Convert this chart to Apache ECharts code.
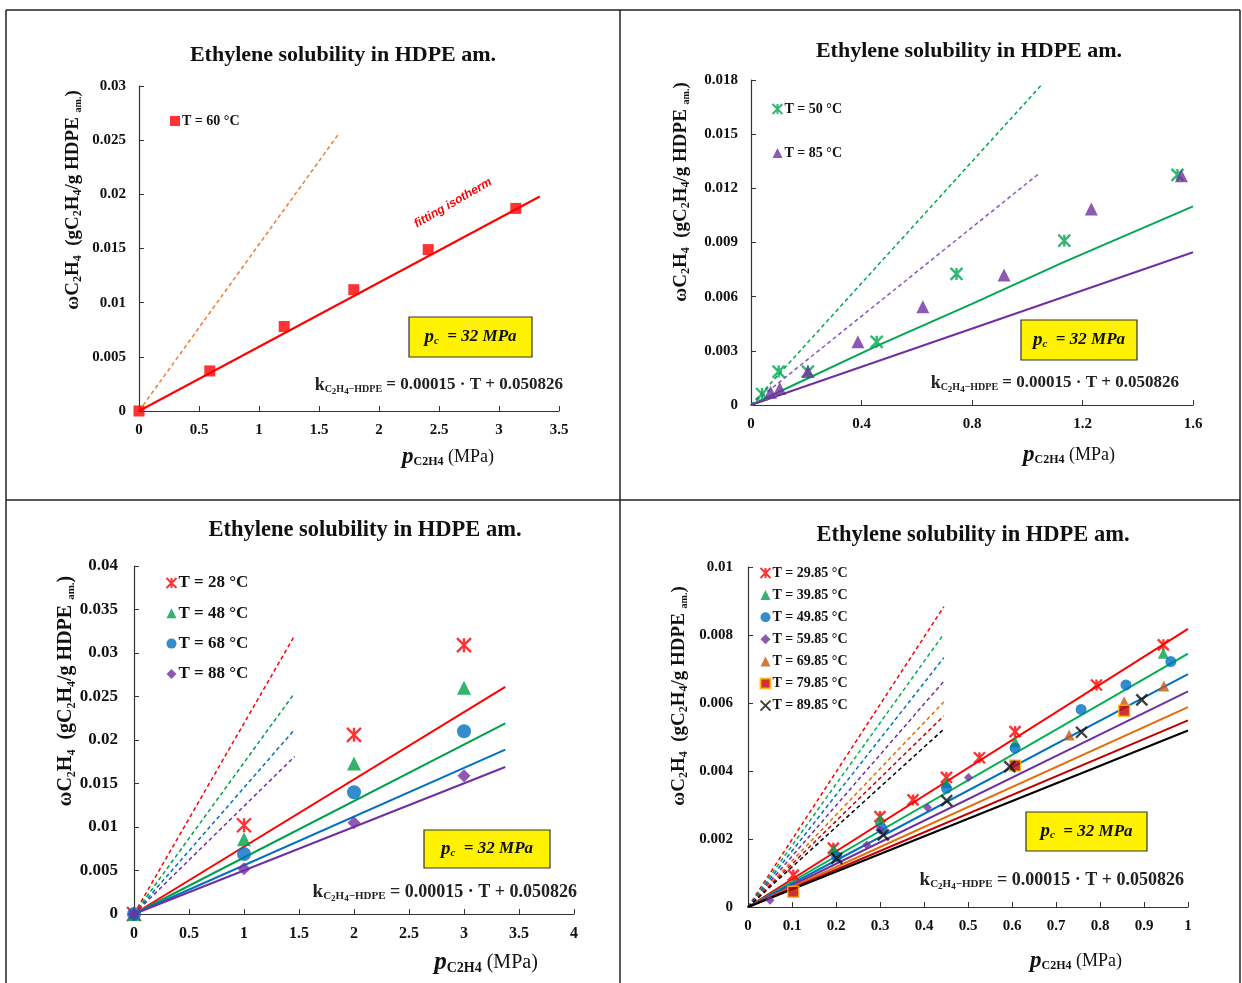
<!DOCTYPE html>
<html>
<head>
<meta charset="utf-8">
<script src="https://cdn.jsdelivr.net/npm/echarts@6/dist/echarts.min.js"></script>
<style>
html, body { margin: 0; padding: 0; background: #fff; }
#chart { width: 1242px; height: 983px; }
</style>
</head>
<body>
<div id="chart"></div>
<script>
// ---- panel A : T = 60 °C
const a60X = [0, 0.59, 1.21, 1.79, 2.41, 3.14];
const a60Y = [0, 0.0037, 0.0078, 0.0112, 0.0149, 0.0187];
const aFitX = [0, 3.34];
const aFitY = [0, 0.0198];
const aHenryX = [0, 1.665];
const aHenryY = [0, 0.0256];

// ---- panel B : T = 50 / 85 °C
const b50X = [0.04, 0.100, 0.206, 0.455, 0.744, 1.134, 1.544];
const b50Y = [0.00061, 0.00185, 0.00185, 0.0035, 0.00726, 0.0091, 0.01274];
const b85X = [0.071, 0.104, 0.206, 0.387, 0.622, 0.916, 1.232, 1.558];
const b85Y = [0.0007, 0.00092, 0.00185, 0.0035, 0.00544, 0.0072, 0.01086, 0.0127];
const bFit50X = [0, 0.46, 0.8, 1.13, 1.6];
const bFit50Y = [0, 0.0033, 0.0056, 0.0079, 0.011];
const bFit85X = [0, 1.6];
const bFit85Y = [0, 0.00846];
const bHenry50X = [0, 1.056];
const bHenry50Y = [0, 0.0178];
const bHenry85X = [0, 1.041];
const bHenry85Y = [0, 0.0128];

// ---- panel C : T = 28 / 48 / 68 / 88 °C
const cP = [0, 1, 2, 3];
const c28 = [0, 0.0102, 0.0206, 0.0309];
const c48 = [0, 0.0086, 0.0173, 0.026];
const c68 = [0, 0.0069, 0.014, 0.021];
const c88 = [0, 0.0052, 0.0105, 0.0159];
const cFitEnd = 3.375;
const cFit = [0.0261, 0.0219, 0.0189, 0.0169];
const cHenryEnd = 1.46;
const cHenry = [0.032, 0.0254, 0.0212, 0.0181];

// ---- panel D : T = 29.85 ... 89.85 °C
const d30X = [0.103, 0.194, 0.30, 0.375, 0.451, 0.526, 0.607, 0.792, 0.944];
const d30Y = [0.00094, 0.00173, 0.00266, 0.00315, 0.00381, 0.00439, 0.00516, 0.00653, 0.00771];
const d40X = [0.195, 0.30, 0.451, 0.607, 0.944];
const d40Y = [0.0017, 0.00258, 0.00366, 0.00486, 0.00746];
const d50X = [0.2016, 0.304, 0.451, 0.607, 0.757, 0.859, 0.961];
const d50Y = [0.00148, 0.00231, 0.00349, 0.00467, 0.00581, 0.00653, 0.00722];
const d60X = [0.05, 0.27, 0.30, 0.408, 0.501];
const d60Y = [0.0002, 0.00182, 0.00226, 0.00293, 0.00381];
const d70X = [0.730, 0.855, 0.945];
const d70Y = [0.00506, 0.00604, 0.0065];
const d80X = [0.103, 0.607, 0.855];
const d80Y = [0.00045, 0.00416, 0.00577];
const d90X = [0.2016, 0.3075, 0.4515, 0.595, 0.758, 0.895];
const d90Y = [0.00143, 0.00212, 0.00313, 0.00413, 0.00514, 0.00609];
const dFitEnd = 1;
const dFit = [0.00818, 0.00745, 0.00685, 0.00634, 0.00588, 0.00549, 0.00519];
const dHenryEnd = 0.445;
const dHenry = [0.00883, 0.00803, 0.00733, 0.00664, 0.00603, 0.00562, 0.00523];

const SERIF = '"Liberation Serif", "Times New Roman", serif';
const STAR = 'path://M0,0L10,10M10,0L0,10M5,0L5,10';
const CROSS = 'path://M0,0L10,10M10,0L0,10';

function pts(xs, ys) { return xs.map((x, i) => [x, ys[i]]); }

function lineS(gi, xs, ys, color, dashed, width) {
    return {
        type: 'line', xAxisIndex: gi, yAxisIndex: gi, data: pts(xs, ys),
        showSymbol: false, silent: true, z: 2,
        lineStyle: { color: color, width: width || 2, type: dashed ? [4, 3] : 'solid' }
    };
}

function dots(gi, name, xs, ys, symbol, size, color, border) {
    const stroke = symbol === STAR || symbol === CROSS;
    return {
        type: 'scatter', name: name, xAxisIndex: gi, yAxisIndex: gi, data: pts(xs, ys),
        symbol: symbol, symbolSize: size, z: 5,
        itemStyle: stroke
            ? { color: 'none', borderColor: color, borderWidth: 2.4 }
            : { color: color, borderColor: border || color, borderWidth: border ? 1.5 : 0 }
    };
}

function xAx(gi, max, interval, fs) {
    return {
        gridIndex: gi, type: 'value', min: 0, max: max, interval: interval,
        axisLine: { lineStyle: { color: '#333', width: 1.2 } },
        axisTick: { inside: true, length: 5, lineStyle: { color: '#333' } },
        axisLabel: { margin: 12, fontFamily: SERIF, fontWeight: 'bold', fontSize: fs, color: '#111' },
        splitLine: { show: false }
    };
}

function yAx(gi, max, interval, fs, margin) {
    return {
        gridIndex: gi, type: 'value', min: 0, max: max, interval: interval,
        axisLine: { show: true, lineStyle: { color: '#333', width: 1.2 } },
        axisTick: { show: true, inside: true, length: 5, lineStyle: { color: '#333' } },
        axisLabel: { margin: margin, fontFamily: SERIF, fontWeight: 'bold', fontSize: fs, color: '#111' },
        splitLine: { show: false }
    };
}

function legendAt(names, left, top, fs, lh, gap) {
    return {
        data: names, left: left, top: top, orient: 'vertical', padding: 0,
        itemGap: gap, itemWidth: 10, itemHeight: 10, selectedMode: false,
        textStyle: { fontFamily: SERIF, fontWeight: 'bold', fontSize: fs, color: '#111', lineHeight: lh, padding: [0, 0, 0, -3] }
    };
}

// text helpers (graphic)
function title(cx, cy, fs) {
    return { type: 'text', x: cx, y: cy, z: 50, style: { text: 'Ethylene solubility in HDPE am.', align: 'center', verticalAlign: 'middle', fontFamily: SERIF, fontWeight: 'bold', fontSize: fs, fill: '#111' } };
}
function yName(cx, cy, fs) {
    return {
        type: 'text', x: cx, y: cy, rotation: Math.PI / 2, z: 50,
        style: {
            text: '{b|ωC}{s|2}{b|H}{s|4}{b|  (gC}{s|2}{b|H}{s|4}{b|/g HDPE }{t|am.}{b|)}',
            align: 'center', verticalAlign: 'middle',
            rich: {
                b: { fontFamily: SERIF, fontWeight: 'bold', fontSize: fs, fill: '#111' },
                s: { fontFamily: SERIF, fontWeight: 'bold', fontSize: Math.round(fs * 0.62), fill: '#111', padding: [Math.round(fs * 0.55), 0, 0, 0] },
                t: { fontFamily: SERIF, fontWeight: 'bold', fontSize: Math.round(fs * 0.55), fill: '#111', padding: [Math.round(fs * 0.55), 0, 0, 0] }
            }
        }
    };
}
function xName(cx, cy, fs) {
    return {
        type: 'text', x: cx, y: cy, z: 50,
        style: {
            text: '{p|p}{s|C2H4}{n| (MPa)}', align: 'center', verticalAlign: 'middle',
            rich: {
                p: { fontFamily: SERIF, fontWeight: 'bold', fontStyle: 'italic', fontSize: fs + 5, fill: '#111' },
                s: { fontFamily: SERIF, fontWeight: 'bold', fontSize: Math.round(fs * 0.68), fill: '#111', padding: [Math.round(fs * 0.5), 0, 0, 0] },
                n: { fontFamily: SERIF, fontSize: fs, fill: '#111' }
            }
        }
    };
}
function pcBox(x, y, w, h, fs) {
    return [
        { type: 'rect', z: 40, shape: { x: x, y: y, width: w, height: h }, style: { fill: '#FFF200', stroke: '#333', lineWidth: 1.2 } },
        {
            type: 'text', x: x + w / 2, y: y + h / 2, z: 41,
            style: {
                text: '{p|p}{s|c}{n|  = 32 MPa}', align: 'center', verticalAlign: 'middle',
                rich: {
                    p: { fontFamily: SERIF, fontWeight: 'bold', fontStyle: 'italic', fontSize: fs + 2, fill: '#111' },
                    s: { fontFamily: SERIF, fontWeight: 'bold', fontStyle: 'italic', fontSize: Math.round(fs * 0.65), fill: '#111', padding: [8, 0, 0, 0] },
                    n: { fontFamily: SERIF, fontWeight: 'bold', fontStyle: 'italic', fontSize: fs, fill: '#111' }
                }
            }
        }
    ];
}
function formula(rx, cy, fs) {
    return {
        type: 'text', x: rx, y: cy, z: 50,
        style: {
            text: '{k|k}{s|C}{ss|2}{s|H}{ss|4}{s|−HDPE}{n| = 0.00015 · T + 0.050826}', align: 'right', verticalAlign: 'middle',
            rich: {
                k: { fontFamily: SERIF, fontWeight: 'bold', fontSize: fs + 1, fill: '#222' },
                s: { fontFamily: SERIF, fontWeight: 'bold', fontSize: Math.round(fs * 0.6), fill: '#222', padding: [9, 0, 0, 0] },
                ss: { fontFamily: SERIF, fontWeight: 'bold', fontSize: Math.round(fs * 0.5), fill: '#222', padding: [13, 0, 0, 0] },
                n: { fontFamily: SERIF, fontWeight: 'bold', fontSize: fs, fill: '#222' }
            }
        }
    };
}
function rule(x1, y1, x2, y2) {
    return { type: 'line', z: 60, shape: { x1: x1, y1: y1, x2: x2, y2: y2 }, style: { stroke: '#222', lineWidth: 1.5 } };
}

const series = [];
// panel A
series.push(lineS(0, aHenryX, aHenryY, '#ED7D31', true, 1.5));
series.push(lineS(0, aFitX, aFitY, '#FF0000', false, 2));
series.push(dots(0, 'T = 60 °C', a60X, a60Y, 'rect', 11, '#FF0000'));
// panel B
series.push(lineS(1, bHenry50X, bHenry50Y, '#00A651', true, 1.5));
series.push(lineS(1, bHenry85X, bHenry85Y, '#8A55BE', true, 1.5));
series.push(lineS(1, bFit50X, bFit50Y, '#00A651', false, 2));
series.push(lineS(1, bFit85X, bFit85Y, '#7030A0', false, 2));
series.push(dots(1, 'T = 50 °C', b50X, b50Y, STAR, 12, '#00A651'));
series.push(dots(1, 'T = 85 °C', b85X, b85Y, 'triangle', 13, '#7030A0'));
// panel C
const cNames = ['T = 28 °C', 'T = 48 °C', 'T = 68 °C', 'T = 88 °C'];
const cCols = ['#FF0000', '#00A04A', '#0070C0', '#7030A0'];
const cSym = [STAR, 'triangle', 'circle', 'diamond'];
const cVals = [c28, c48, c68, c88];
cCols.forEach((col, i) => {
    series.push(lineS(2, [0, cHenryEnd], [0, cHenry[i]], col, true, 1.5));
    series.push(lineS(2, [0, cFitEnd], [0, cFit[i]], col, false, 2));
});
cCols.forEach((col, i) => {
    series.push(dots(2, cNames[i], cP, cVals[i], cSym[i], i === 3 ? 13 : 14, col));
});
// panel D
const dNames = ['T = 29.85 °C', 'T = 39.85 °C', 'T = 49.85 °C', 'T = 59.85 °C', 'T = 69.85 °C', 'T = 79.85 °C', 'T = 89.85 °C'];
const dLineCols = ['#FF0000', '#00B050', '#0070C0', '#7030A0', '#E46C0A', '#C00000', '#000000'];
const dMarkCols = ['#FF0000', '#00A04A', '#0070C0', '#7030A0', '#C55A11', '#C00000', '#111111'];
const dSym = [STAR, 'triangle', 'circle', 'diamond', 'triangle', 'rect', CROSS];
const dX = [d30X, d40X, d50X, d60X, d70X, d80X, d90X];
const dY = [d30Y, d40Y, d50Y, d60Y, d70Y, d80Y, d90Y];
dLineCols.forEach((col, i) => {
    series.push(lineS(3, [0, dHenryEnd], [0, dHenry[i]], col, true, 1.5));
    series.push(lineS(3, [0, dFitEnd], [0, dFit[i]], col, false, 2));
});
dMarkCols.forEach((col, i) => {
    series.push(dots(3, dNames[i], dX[i], dY[i], dSym[i], i === 3 ? 9 : 11, col, i === 5 ? '#FFC000' : null));
});

const graphic = [
    rule(6, 10, 1240, 10), rule(6, 500, 1240, 500),
    rule(6, 10, 6, 983), rule(620, 10, 620, 983), rule(1240, 10, 1240, 983),
    title(343, 55, 22), title(969, 51, 22), title(365, 530, 22.5), title(973, 535, 22.5),
    yName(73, 200, 19), yName(681, 192, 19), yName(66, 691, 20), yName(679, 696, 19),
    xName(448, 457, 18), xName(1069, 455, 18), xName(486, 963, 20), xName(1076, 961, 18),
    formula(563, 385, 17), formula(1179, 383, 17), formula(577, 892, 18), formula(1184, 880, 18),
    {
        type: 'text', x: 453, y: 203, rotation: 30 * Math.PI / 180, z: 50,
        style: { text: 'fitting isotherm', align: 'center', verticalAlign: 'middle', fontFamily: '"Liberation Sans", Arial, sans-serif', fontStyle: 'italic', fontWeight: 'bold', fontSize: 12, fill: '#FF0000' }
    }
].concat(pcBox(409, 317, 123, 40, 17), pcBox(1021, 320, 116, 40, 17), pcBox(424, 830, 126, 38, 17), pcBox(1026, 812, 121, 39, 17));

const chart = echarts.init(document.getElementById('chart'));
chart.setOption({
    animation: false,
    backgroundColor: '#fff',
    grid: [
        { left: 139, top: 86, width: 420, height: 325, outerBoundsMode: 'none' },
        { left: 751, top: 80, width: 442, height: 325, outerBoundsMode: 'none' },
        { left: 134, top: 566, width: 440, height: 348, outerBoundsMode: 'none' },
        { left: 748, top: 567, width: 440, height: 340, outerBoundsMode: 'none' }
    ],
    xAxis: [xAx(0, 3.5, 0.5, 15), xAx(1, 1.6, 0.4, 15), xAx(2, 4, 0.5, 16), xAx(3, 1, 0.1, 15)],
    yAxis: [yAx(0, 0.03, 0.005, 15, 13), yAx(1, 0.018, 0.003, 15, 13), yAx(2, 0.04, 0.005, 17, 16), yAx(3, 0.01, 0.002, 15, 15)],
    legend: [
        legendAt(['T = 60 °C'], 170, 113, 14, 16, 0),
        legendAt(['T = 50 °C', 'T = 85 °C'], 770, 101, 14, 16, 28),
        legendAt(cNames, 164, 573, 17, 20, 10.3),
        legendAt(dNames, 758, 565, 14, 16, 6.1)
    ],
    graphic: graphic,
    series: series
});
</script>
</body>
</html>
